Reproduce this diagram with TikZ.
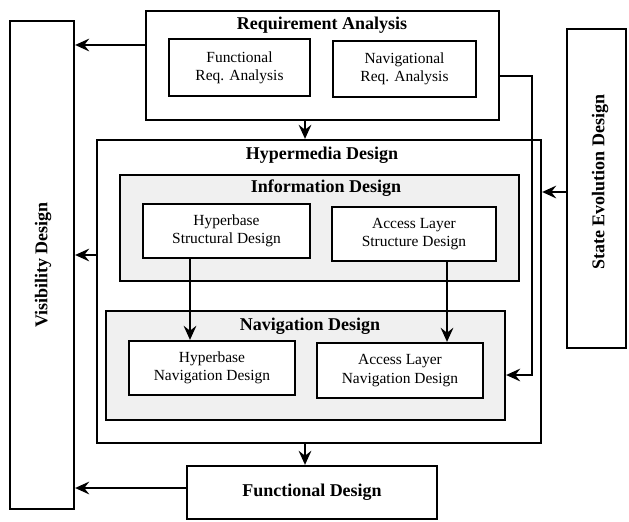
\documentclass[tikz,border=0pt]{standalone}
\usepackage{fontspec}
\setmainfont{Liberation Serif}
\usetikzlibrary{arrows.meta, positioning}
\tikzset{
->, % every connector is directed
>={Stealth[length=10pt,width=9pt,inset=3.5pt]}, % bold arrow heads
box/.style={draw, inner sep=0pt, align=center, font=\fontsize{11}{13}\selectfont}, % plain boxes
grp/.style={box, fill=gray!12}, % shaded groups
title/.style={font=\bfseries\fontsize{12.8}{15}\selectfont}, % headings
}
\begin{document}
\begin{tikzpicture}[line width=1.6pt]
        \useasboundingbox (0,0) rectangle (15.725,-13.05);
        % side boxes
        \node[box, minimum width=1.6cm, minimum height=12.2cm] at (1.05,-6.625) (vis) {};
        \node[title, rotate=90] at (1.075,-6.625) (vistext) {Visibility Design};
        \node[box, minimum width=1.475cm, minimum height=7.975cm] at (14.92,-4.7125) (sed) {};
        \node[title, rotate=90] at (15.0,-4.55) (sedtext) {State Evolution Design};
        % requirement analysis
        \node[box, minimum width=8.825cm, minimum height=2.725cm] at (8.0625,-1.6375) (ra) {};
        \node[title] at (8.05,-0.625) (ratext) {Requirement Analysis};
        \node[box, minimum width=3.525cm, minimum height=1.425cm] at (5.9875,-1.6875) (fra) {Functional\\Req. Analysis};
        \node[box, minimum width=3.575cm, minimum height=1.4cm] at (10.1125,-1.725) (nra) {Navigational\\Req. Analysis};
        % hypermedia design
        \node[box, minimum width=11.1cm, minimum height=7.575cm] at (7.975,-7.2875) (hd) {};
        \node[title] at (8.05,-3.875) (hdtext) {Hypermedia Design};
        \node[grp, minimum width=9.975cm, minimum height=2.65cm] at (7.9875,-5.7) (info) {};
        \node[title] at (8.15,-4.7) (infotext) {Information Design};
        \node[box, fill=white, minimum width=4.175cm, minimum height=1.35cm] at (5.6625,-5.775) (hsd) {Hyperbase\\Structural Design};
        \node[box, fill=white, minimum width=4.1cm, minimum height=1.35cm] at (10.35,-5.85) (als) {Access Layer\\Structure Design};
        \node[grp, minimum width=9.975cm, minimum height=2.725cm] at (7.6375,-9.1375) (navd) {};
        \node[title] at (7.75,-8.15) (navdtext) {Navigation Design};
        \node[box, fill=white, minimum width=4.15cm, minimum height=1.35cm] at (5.3,-9.2) (hnd) {Hyperbase\\Navigation Design};
        \node[box, fill=white, minimum width=4.15cm, minimum height=1.375cm] at (10,-9.2625) (aln) {Access Layer\\Navigation Design};
        % functional design
        \node[box, title, minimum width=6.25cm, minimum height=1.325cm] at (7.8,-12.3125) (fd) {Functional Design};
        \draw
        (ra.west |- 0,-1.125) -- (vis.east |- 0,-1.125);
        \draw
        (ra.south -| 7.625,0) -- (hd.north -| 7.625,0);
        \draw
        (ra.east |- 0,-1.9) -| (13.3,-9.375) -- (navd.east |- 0,-9.375);
        \draw
        (sed.west |- 0,-4.8) -- (hd.east |- 0,-4.8);
        \draw
        (hd.west |- 0,-6.375) -- (vis.east |- 0,-6.375);
        \draw
        (hsd.south -| 4.75,0) -- (hnd.north -| 4.75,0);
        \draw
        (als.south -| 11.175,0) -- (aln.north -| 11.175,0);
        \draw
        (hd.south -| 7.625,0) -- (fd.north -| 7.625,0);
        \draw
        (fd.west |- 0,-12.2) -- (vis.east |- 0,-12.2);
    \end{tikzpicture}
\end{document}
